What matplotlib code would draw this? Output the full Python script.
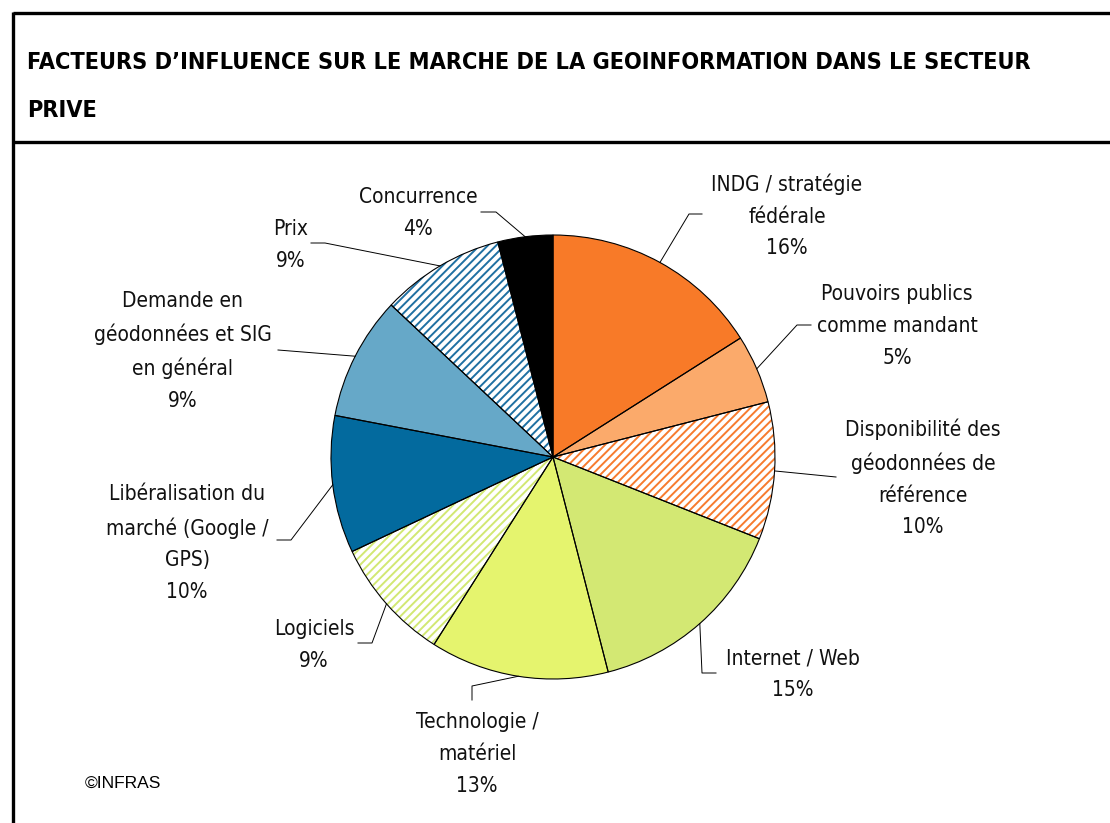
import numpy as np
import matplotlib
matplotlib.use("Agg")
import matplotlib.pyplot as plt

# chart data
labels = [
    "INDG / stratégie\nfédérale",
    "Pouvoirs publics\ncomme mandant",
    "Disponibilité des\ngéodonnées de\nréférence",
    "Internet / Web",
    "Technologie /\nmatériel",
    "Logiciels",
    "Libéralisation du\nmarché (Google /\nGPS)",
    "Demande en\ngéodonnées et SIG\nen général",
    "Prix",
    "Concurrence",
]
shares = [16, 5, 10, 15, 13, 9, 10, 9, 9, 4]

colors = ["#F87A28", "#FBAA6B", "#F77B2E", "#D3E873", "#E5F46E",
          "#D2E873", "#036A9E", "#66A8C8", "#1F70A2", "#000000"]
hatched = [False, False, True, False, False, True, False, False, True, False]

W, H = 1110, 823
cx, cy, rad = 553, 457, 222

# label layout (pixel coords from top-left): text centre, leader elbow points
label_pos = [(787, 216), (897, 326), (923, 478), (793, 674), (477, 754),
             (314, 645), (187, 543), (183, 351), (291, 245), (418, 213)]
leaders = [
    [(689, 214), (702, 214)],
    [(797, 325), (811, 325)],
    [(836, 477)],
    [(702, 673), (716, 673)],
    [(472, 686), (472, 700)],
    [(372, 643), (358, 643)],
    [(291, 540), (277, 540)],
    [(278, 350)],
    [(325, 243), (311, 243)],
    [(496, 212), (481, 212)],
]

plt.rcParams["font.family"] = ["DejaVu Sans"]
plt.rcParams["hatch.linewidth"] = 1.4

fig = plt.figure(figsize=(W / 100, H / 100), dpi=100)
ax = fig.add_axes([0, 0, 1, 1])

def py(y):
    return H - y

# fills + hatches
fills = ["white" if h else c for c, h in zip(colors, hatched)]
wedges, _ = ax.pie(shares, colors=fills, startangle=90, counterclock=False,
                   center=(cx, py(cy)), radius=rad, frame=True,
                   wedgeprops=dict(linewidth=0))
for w, c, h in zip(wedges, colors, hatched):
    if h:
        w.set_hatch("////")
        w.set_edgecolor(c)

# outlines
outl, _ = ax.pie(shares, colors=["none"] * len(shares), startangle=90,
                 counterclock=False, center=(cx, py(cy)), radius=rad, frame=True,
                 wedgeprops=dict(linewidth=0.8, edgecolor="black", facecolor="none"))

for w, lab, val, (tx, ty), pts in zip(outl, labels, shares, label_pos, leaders):
    mid = np.deg2rad((w.theta1 + w.theta2) / 2)
    x0 = cx + rad * np.cos(mid)
    y0 = py(cy) + rad * np.sin(mid)
    xs = [x0] + [p[0] for p in pts]
    ys = [y0] + [py(p[1]) for p in pts]
    ax.plot(xs, ys, color="black", lw=0.7)
    ax.text(tx, py(ty), f"{lab}\n{val}%", ha="center", va="center",
            fontsize=15, fontstretch="condensed", linespacing=1.72,
            color="#111111")

# title block and frame
ax.text(27, py(62), "FACTEURS D’INFLUENCE SUR LE MARCHE DE LA GEOINFORMATION DANS LE SECTEUR",
        ha="left", va="center", fontsize=16.8, fontweight="bold", fontstretch="condensed")
ax.text(27, py(110), "PRIVE", ha="left", va="center", fontsize=16.8,
        fontweight="bold", fontstretch="condensed")
ax.plot([13, W + 5], [py(13), py(13)], color="black", lw=2.4, solid_capstyle="butt")
ax.plot([13, W + 5], [py(142), py(142)], color="black", lw=2.4, solid_capstyle="butt")
ax.plot([13, 13], [py(12), -5], color="black", lw=2.4, solid_capstyle="butt")

ax.text(85, py(783), "©INFRAS", ha="left", va="center", fontsize=12.5,
        family=["Liberation Sans", "DejaVu Sans"])

ax.set_xlim(0, W)
ax.set_ylim(0, H)
ax.axis("off")

fig.savefig("out.png", dpi=100)
